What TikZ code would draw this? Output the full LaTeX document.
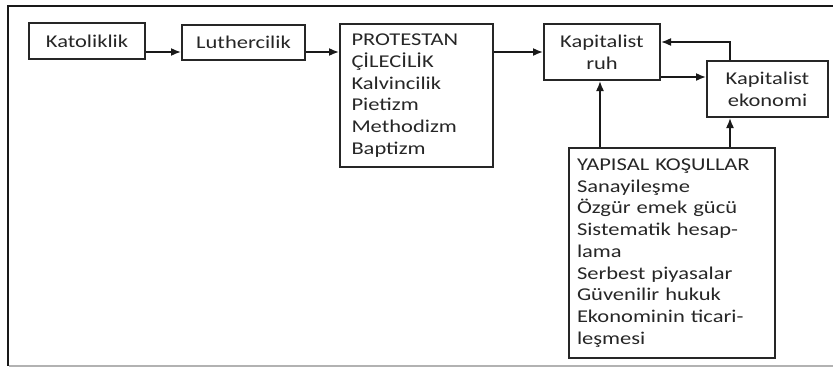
\documentclass[tikz,border=0pt]{standalone}
\usepackage{fontspec}
\setmainfont[FakeStretch=1.25]{Carlito}
\usetikzlibrary{arrows.meta}
\begin{document}
\begin{tikzpicture}[x=1pt,y=-1pt,
  box/.style={draw=black!85,line width=2pt,inner sep=0pt,align=left,
    font=\fontsize{18}{21.7}\selectfont,text=black!85},
  cbox/.style={box,align=center},
  arr/.style={draw=black!90,line width=1.6pt,-{Latex[length=10pt,width=8pt]}}]
\useasboundingbox (0,0) rectangle (833,367);
% frame
\draw[line width=2.5pt,black!90] (833,6) -- (8,6) -- (8,366);
\draw[line width=1.5pt,black!30] (9,366) -- (833,366);
% nodes
\node[cbox,minimum width=116pt,minimum height=36pt] (kat) at (87,41) {Katoliklik};
\node[cbox,minimum width=123pt,minimum height=35pt] (lut) at (243.5,42.5) {Luthercilik};
\node[box,minimum width=153pt,minimum height=143pt,text width=130pt] (prot) at (416.5,95.5)
  {PROTESTAN\\ÇİLECİLİK\\Kalvincilik\\Pietizm\\Methodizm\\Baptizm};
\node[cbox,minimum width=116pt,minimum height=56pt] (ruh) at (602,52) {Kapitalist\\ruh};
\node[cbox,minimum width=121pt,minimum height=56pt] (eko) at (767.5,89) {Kapitalist\\ekonomi};
\node[box,minimum width=206pt,minimum height=210pt,text width=190pt] (yap) at (672,253)
  {YAPISAL KOŞULLAR\\Sanayileşme\\Özgür emek gücü\\Sistematik hesap-\\lama\\Serbest piyasalar\\Güvenilir hukuk\\Ekonominin ticari-\\leşmesi};
% helper coordinates
\coordinate (r1) at (0,52);
\coordinate (r2) at (0,77);
\coordinate (c1) at (730,42);
\coordinate (c2) at (600,0);
% connectors
\draw[arr] (kat.east |- r1) -- (lut.west |- r1);
\draw[arr] (lut.east |- r1) -- (prot.west |- r1);
\draw[arr] (prot.east |- r1) -- (ruh.west |- r1);
\draw[arr] (ruh.east |- r2) -- (eko.west |- r2);
\draw[arr] (eko.north -| c1) |- (ruh.east |- c1);
\draw[arr] (yap.north -| c2) -- (ruh.south -| c2);
\draw[arr] (yap.north -| c1) -- (eko.south -| c1);
\end{tikzpicture}
\end{document}
